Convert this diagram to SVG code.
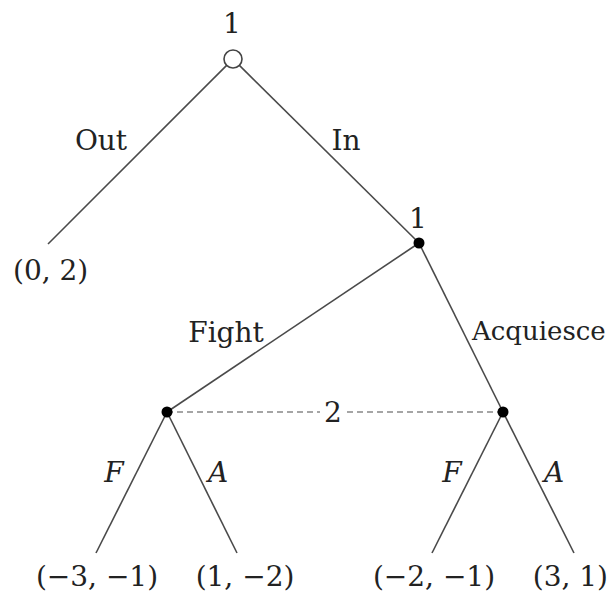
<svg xmlns="http://www.w3.org/2000/svg" width="612" height="596" viewBox="0 0 612 596">
<style>
text{font-family:"DejaVu Serif","Liberation Serif",serif;font-size:28px;fill:#222;text-anchor:middle}
.it{font-style:italic}
.e{stroke:#4a4a4a;stroke-width:1.6;fill:none}
.d{stroke:#888;stroke-width:1.6;stroke-dasharray:6 4;fill:none}
.dot{fill:#000}
</style>
<rect width="612" height="596" fill="#fff"/>
<g id="connectors">
<line class="e" x1="226.6" y1="65.4" x2="48" y2="244"/>
<line class="e" x1="239.4" y1="65.4" x2="419" y2="243"/>
<line class="e" x1="419" y1="243" x2="167" y2="412"/>
<line class="e" x1="419" y1="243" x2="503" y2="412"/>
<line class="d" x1="167" y1="412" x2="503" y2="412"/>
<line class="e" x1="167" y1="412" x2="96" y2="553"/>
<line class="e" x1="167" y1="412" x2="237" y2="553"/>
<line class="e" x1="503" y1="412" x2="432" y2="553"/>
<line class="e" x1="503" y1="412" x2="574" y2="553"/>
<rect x="320" y="398" width="26" height="28" fill="#fff"/>
<text x="333" y="422">2</text>
<text x="101" y="150">Out</text>
<text x="346" y="150">In</text>
<text x="226" y="342">Fight</text>
<text x="472" y="340" style="text-anchor:start;font-size:26px">Acquiesce</text>
<text class="it" x="114" y="482">F</text>
<text class="it" x="218" y="482">A</text>
<text class="it" x="452" y="482">F</text>
<text class="it" x="554" y="482">A</text>
</g>
<g id="root">
<circle cx="233" cy="59" r="9" fill="#fff" stroke="#444" stroke-width="1.6"/>
<text x="232" y="33">1</text>
</g>
<g id="n1">
<circle class="dot" cx="419" cy="243" r="5.5"/>
<text x="418" y="228">1</text>
</g>
<g id="n2a"><circle class="dot" cx="167" cy="412" r="5.5"/></g>
<g id="n2b"><circle class="dot" cx="503" cy="412" r="5.5"/></g>
<g id="t0"><text x="13" y="280" style="text-anchor:start">(0, 2)</text></g>
<g id="t1"><text x="97" y="586">(−3, −1)</text></g>
<g id="t2"><text x="245" y="586">(1, −2)</text></g>
<g id="t3"><text x="434" y="586">(−2, −1)</text></g>
<g id="t4"><text x="608" y="586" style="text-anchor:end">(3, 1)</text></g>
</svg>
